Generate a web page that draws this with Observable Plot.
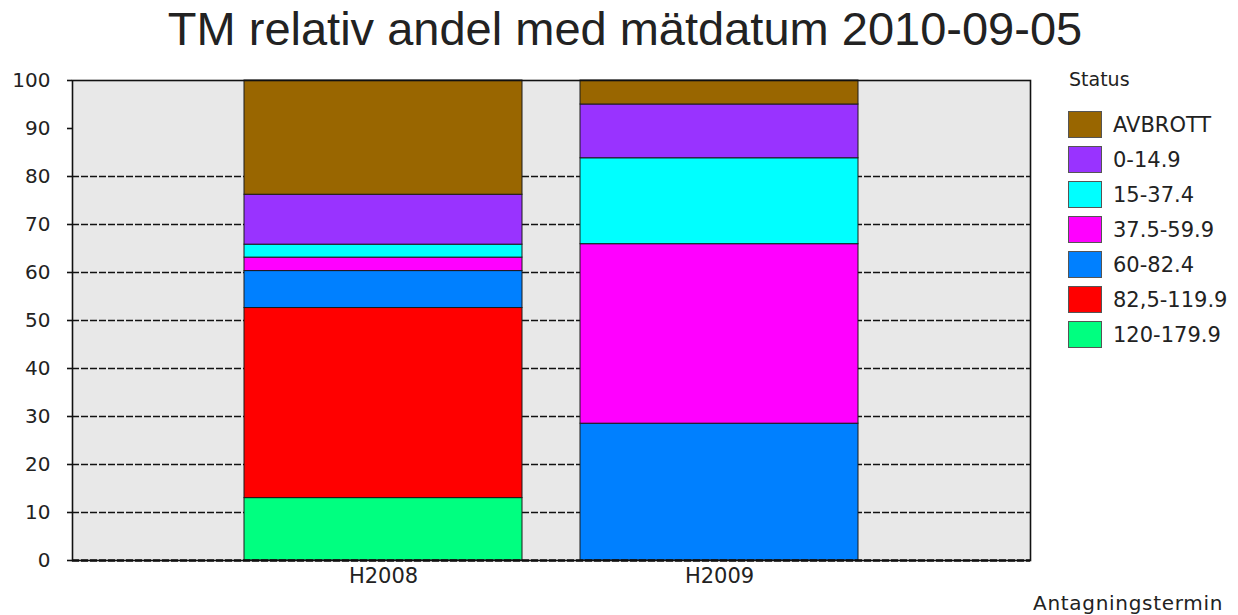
<!DOCTYPE html>
<html>
<head>
<meta charset="utf-8">
<script src="https://cdn.jsdelivr.net/npm/d3@7"></script>
<script src="https://cdn.jsdelivr.net/npm/@observablehq/plot@0.6"></script>
<style>
  html, body { margin: 0; padding: 0; background: #fff; }
  #wrap { position: relative; width: 1238px; height: 615px; overflow: hidden; }
  #chart { position: absolute; left: 0; top: 0; }
  #title { position: absolute; left: 0; width: 1250px; top: 1px; text-align: center;
           font-family: "Liberation Sans", Arial, sans-serif; font-size: 47px; color: #222; white-space: nowrap; }
  #legend { position: absolute; left: 1068px; top: 68px; font-family: "DejaVu Sans", sans-serif; color: #222; }
  #legend .head { font-size: 19px; height: 39px; margin-left: 1px; }
  #legend .row { display: flex; align-items: center; height: 35px; }
  #legend .sw { width: 32px; height: 25px; border: 1px solid #555; box-sizing: content-box; }
  #legend .lab { font-size: 21px; margin-left: 11px; white-space: nowrap; }
  #xlabel { position: absolute; left: 1033px; top: 591px; font-family: "DejaVu Sans", sans-serif; font-size: 20px; letter-spacing: 0.7px; color: #222; white-space: nowrap; }
</style>
</head>
<body>
<div id="wrap">
  <div id="chart"></div>
  <div id="title"></div>
  <div id="legend"></div>
  <div id="xlabel"></div>
</div>
<script>
const titleText = "TM relativ andel med mätdatum 2010-09-05";
const xAxisLabel = "Antagningstermin";
const legendTitle = "Status";
const terms = ["H2008", "H2009"];
// statuses from bottom of stack to top
const statuses = ["120-179.9", "82,5-119.9", "60-82.4", "37.5-59.9", "15-37.4", "0-14.9", "AVBROTT"];
const colors   = ["#00ff80", "#ff0000", "#0080ff", "#ff00ff", "#00ffff", "#9933ff", "#996600"];
const valuesH2008 = [13.0, 39.6, 7.7, 2.8, 2.7, 10.4, 23.8];
const valuesH2009 = [0, 0, 28.5, 37.4, 17.9, 11.2, 5.0];
const yTicks = [0, 10, 20, 30, 40, 50, 60, 70, 80, 90, 100];
const gridValues = [10, 20, 30, 40, 50, 60, 70, 80];

const seriesByTerm = {H2008: valuesH2008, H2009: valuesH2009};
const data = [];
for (const term of terms) {
  statuses.forEach((s, i) => {
    const v = seriesByTerm[term][i];
    if (v > 0) data.push({term, status: s, value: v});
  });
}

const font = "DejaVu Sans, sans-serif";
const chart = Plot.plot({
  width: 1238,
  height: 615,
  marginTop: 80,
  marginBottom: 55,
  marginLeft: 72,
  marginRight: 208,
  style: {fontFamily: font, fontSize: "20px", color: "#222", background: "transparent"},
  x: {domain: terms, paddingInner: 0.173, paddingOuter: 0.508, label: null},
  y: {domain: [0, 100], label: null},
  color: {domain: statuses, range: colors},
  marks: [
    Plot.frame({fill: "#e8e8e8", stroke: null}),
    Plot.ruleY(gridValues, {stroke: "#111", strokeWidth: 1.6, strokeDasharray: "7,2"}),
    Plot.barY(data, {x: "term", y: "value", fill: "status", stroke: "#1a1a1a", strokeWidth: 1, order: null}),
    Plot.frame({stroke: "#111", strokeWidth: 1.6}),
    Plot.ruleY([0], {stroke: "#111", strokeWidth: 2.5, strokeDasharray: "7,2"}),
    Plot.axisY({ticks: yTicks, tickSize: 5, tickPadding: 17, fontSize: 20, fontFamily: font, stroke: "#111", strokeWidth: 1.6, tickFormat: d => String(d)}),
    Plot.axisX({tickSize: 0, tickPadding: 8, fontSize: 21, fontFamily: font})
  ]
});
document.getElementById("chart").appendChild(chart);

document.getElementById("title").textContent = titleText;
document.getElementById("xlabel").textContent = xAxisLabel;

const legend = document.getElementById("legend");
const head = document.createElement("div");
head.className = "head";
head.textContent = legendTitle;
legend.appendChild(head);
for (let i = statuses.length - 1; i >= 0; i--) {
  const row = document.createElement("div");
  row.className = "row";
  const sw = document.createElement("div");
  sw.className = "sw";
  sw.style.background = colors[i];
  const lab = document.createElement("div");
  lab.className = "lab";
  lab.textContent = statuses[i];
  row.appendChild(sw);
  row.appendChild(lab);
  legend.appendChild(row);
}
</script>
</body>
</html>
